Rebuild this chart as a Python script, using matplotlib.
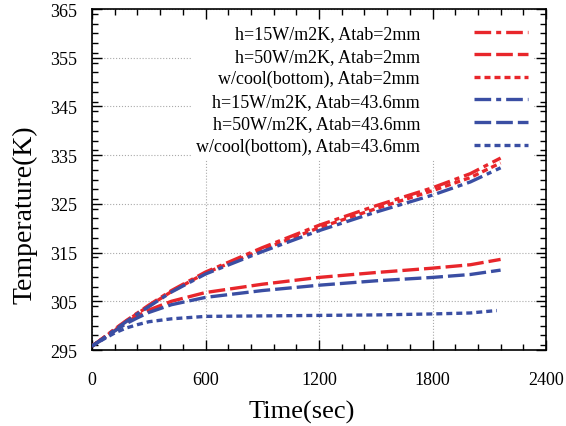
import numpy as np
import matplotlib.pyplot as plt
from matplotlib.ticker import MultipleLocator

plt.rcParams['font.family'] = ['Liberation Serif', 'DejaVu Serif']

# time (s) and temperature (K)
t = [0, 60, 120, 180, 240, 300, 420, 600, 900, 1200, 1500, 1800, 2000, 2160]
t_cool = [0, 60, 120, 180, 240, 300, 420, 600, 900, 1200, 1500, 1800, 2000, 2140]

h15_2mm = [295.8, 297.5, 299.3, 301.0, 302.6, 304.2, 307.2, 311.0, 316.0, 320.6, 324.6, 328.3, 331.2, 334.4]
h50_2mm = [295.8, 297.4, 299.0, 300.6, 302.0, 303.2, 305.0, 306.8, 308.5, 309.9, 310.9, 311.8, 312.5, 313.6]
cool_2mm = [295.8, 297.5, 299.2, 300.9, 302.5, 304.0, 307.0, 310.8, 315.6, 320.1, 324.0, 327.7, 330.4, 333.4]
h15_43mm = [295.8, 297.4, 299.1, 300.8, 302.4, 303.9, 306.9, 310.6, 315.2, 319.5, 323.3, 326.8, 329.5, 332.4]
h50_43mm = [295.8, 297.3, 298.9, 300.4, 301.6, 302.7, 304.3, 305.8, 307.2, 308.3, 309.2, 309.9, 310.5, 311.4]
cool_43mm = [295.8, 297.2, 298.5, 299.5, 300.2, 300.8, 301.4, 301.9, 302.0, 302.1, 302.2, 302.4, 302.6, 303.1]

labels = ['h=15W/m2K, Atab=2mm', 'h=50W/m2K, Atab=2mm', 'w/cool(bottom), Atab=2mm',
          'h=15W/m2K, Atab=43.6mm', 'h=50W/m2K, Atab=43.6mm', 'w/cool(bottom), Atab=43.6mm']
y_ticks = [295, 305, 315, 325, 335, 345, 355, 365]

red = '#e8262b'
blue = '#3a4ea3'
dashdot = (0, (5, 1.5, 1.5, 1.5))
dashed = (0, (5, 1.5))
dotted = (0, (1.8, 1.2))

fig = plt.figure(figsize=(5.66, 4.27), dpi=100)
ax = fig.add_axes([92 / 566, 1 - 351 / 427, 454 / 566, 341 / 427])

lw = 2.4
ax.plot(t, h15_2mm, color=red, lw=lw, ls=dashdot, label=labels[0], zorder=3)
ax.plot(t, h50_2mm, color=red, lw=lw, ls=dashed, label=labels[1], zorder=3)
ax.plot(t, cool_2mm, color=red, lw=lw, ls=dotted, label=labels[2], zorder=3)
ax.plot(t, h15_43mm, color=blue, lw=lw, ls=dashdot, label=labels[3], zorder=3)
ax.plot(t, h50_43mm, color=blue, lw=lw, ls=dashed, label=labels[4], zorder=3)
ax.plot(t_cool, cool_43mm, color=blue, lw=lw, ls=dotted, label=labels[5], zorder=3)

ax.set_xlim(0, 2400)
ax.set_ylim(295, 365)
ax.xaxis.set_major_locator(MultipleLocator(600))
ax.xaxis.set_minor_locator(MultipleLocator(120))
ax.set_yticks(y_ticks)
ax.yaxis.set_minor_locator(MultipleLocator(2))
ax.tick_params(which='both', direction='in', top=True, right=True, labelsize=13, width=1)
ax.tick_params(which='major', length=7)
ax.tick_params(axis='x', which='major', pad=15)
ax.tick_params(axis='y', which='major', pad=10.5)
ax.tick_params(which='minor', length=4)
for s in ax.spines.values():
    s.set_linewidth(1.2)
ax.grid(True, which='major', ls=':', color='#aaaaaa', lw=0.8)

ax.set_xlabel('Time(sec)', fontsize=19, labelpad=9)
ax.set_ylabel('Temperature(K)', fontsize=20, labelpad=9)
ax.xaxis.label.set_x(0.463)
ax.yaxis.label.set_y(0.40)

leg = ax.legend(loc='upper right', bbox_to_anchor=(0.997, 1.0), markerfirst=False, frameon=True,
                fontsize=13, handlelength=3.0, labelspacing=0.3, borderaxespad=0.6,
                handletextpad=3.0, fancybox=False, framealpha=1, borderpad=0.3)
leg.get_frame().set_edgecolor('none')
leg.set_zorder(2)
for txt in leg.get_texts():
    txt.set_ha('right')

fig.savefig('out.png', dpi=100)
